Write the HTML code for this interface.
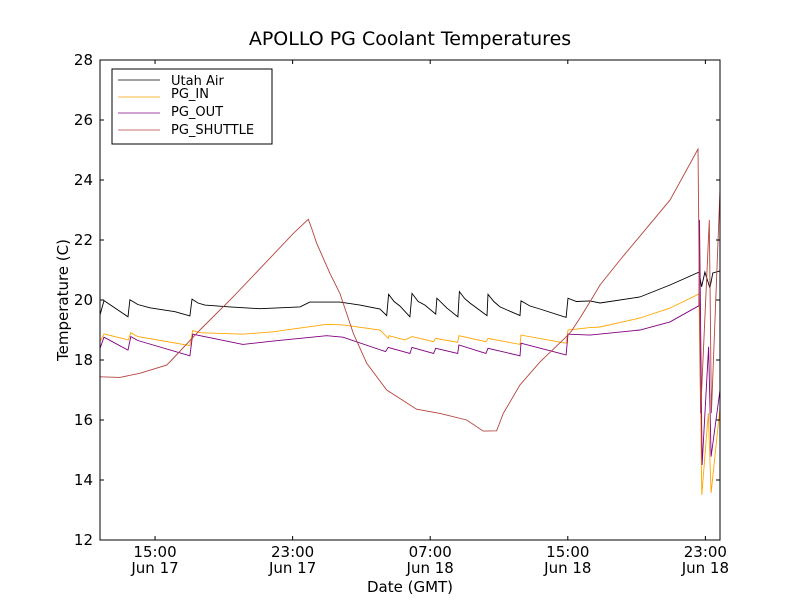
<!DOCTYPE html>
<html><head><meta charset="utf-8">
<style>
body{margin:0;background:#fff;}
svg{display:block;font-family:"DejaVu Sans","Liberation Sans",sans-serif;}
</style></head>
<body>
<svg id="chart" width="800" height="600" viewBox="0 0 800 600">
<rect x="0" y="0" width="800" height="600" fill="#fff"/>
<text x="410" y="45" text-anchor="middle" font-size="19">APOLLO PG Coolant Temperatures</text>
<text x="410" y="592" text-anchor="middle" font-size="15">Date (GMT)</text>
<text transform="translate(68,300) rotate(-90)" text-anchor="middle" font-size="15">Temperature (C)</text>
<g id="series"></g>
<g id="axes"></g>
<g>
<rect x="112" y="69" width="160" height="75" fill="#fff" stroke="#000" stroke-width="1"/>
<g><line x1="118" y1="80" x2="160" y2="80" stroke="#000" stroke-width="0.8"/><text x="171" y="85" font-size="13">Utah Air</text></g>
<g><line x1="118" y1="97" x2="160" y2="97" stroke="#FFA500" stroke-width="0.8"/><text x="171" y="98" font-size="13">PG_IN</text></g>
<g><line x1="118" y1="113" x2="160" y2="113" stroke="#800080" stroke-width="0.8"/><text x="171" y="116" font-size="13">PG_OUT</text></g>
<g><line x1="118" y1="130" x2="160" y2="130" stroke="#b5443f" stroke-width="0.8"/><text x="171" y="134" font-size="13">PG_SHUTTLE</text></g>
</g>
</svg>
<script>
// hours since Jun 17 00:00 GMT
const airT=[11.8,12.03,12.5,13.43,13.54,14.0,14.7,16.16,17.03,17.15,17.5,17.9,19.36,21.1,23.43,24.0,25.75,26.92,28.08,28.47,28.58,28.9,29.24,29.82,29.94,30.3,30.7,31.32,31.39,31.97,32.61,32.7,33.0,33.31,34.3,34.36,34.7,35.06,36.22,36.28,36.8,37.38,38.9,39.01,39.5,40.29,40.87,43.19,44.94,46.63,46.78,46.97,47.26,47.43,47.85];
const airV=[19.5,19.98,19.8,19.44,20.01,19.85,19.74,19.61,19.47,20.03,19.9,19.83,19.77,19.71,19.77,19.93,19.93,19.83,19.7,19.48,20.19,19.95,19.8,19.44,20.22,19.95,19.83,19.53,20.06,19.73,19.44,20.28,20.05,19.9,19.48,20.19,19.95,19.77,19.48,19.97,19.8,19.7,19.42,20.06,19.95,19.97,19.9,20.1,20.5,20.93,20.44,20.93,20.4,20.9,20.97];
const inT=[11.8,12.03,13.45,13.59,14.0,17.03,17.19,17.61,20.11,21.86,24.98,25.93,28.08,28.56,28.6,29.53,29.94,31.2,31.32,32.6,32.67,34.24,34.36,36.22,36.28,38.9,39.01,40.29,40.87,43.2,44.94,46.63,46.79,47.17,47.33,47.85];
const inV=[18.61,18.87,18.67,18.91,18.78,18.48,18.98,18.91,18.86,18.94,19.19,19.17,19.0,18.72,18.81,18.67,18.78,18.61,18.72,18.59,18.81,18.61,18.72,18.52,18.83,18.56,19.0,19.08,19.1,19.4,19.73,20.2,13.5,16.23,13.57,16.4];
const outT=[11.8,12.03,13.43,13.59,14.0,17.03,17.19,20.11,21.86,24.98,25.93,28.4,28.56,29.82,29.94,31.2,31.32,32.6,32.67,34.24,34.36,36.22,36.28,38.9,39.01,40.29,43.2,44.94,46.63,46.66,46.81,47.19,47.33,47.85];
const outV=[18.39,18.76,18.33,18.78,18.65,18.14,18.86,18.52,18.63,18.81,18.76,18.28,18.42,18.22,18.42,18.22,18.39,18.22,18.5,18.22,18.39,18.14,18.56,18.17,18.86,18.83,19.0,19.27,19.81,22.67,14.5,18.44,14.78,17.0];
const shT=[11.8,12.96,14.13,15.68,15.97,17.61,19.55,21.49,23.04,23.91,24.1,24.4,25.17,25.75,26.53,27.31,28.47,30.21,31.57,33.12,34.08,34.86,35.25,36.22,37.38,38.83,39.2,39.71,40.3,40.87,42.03,43.49,44.94,46.57,46.72,47.23,47.35,47.85];
const shV=[17.44,17.42,17.56,17.83,18.0,19.0,20.11,21.28,22.22,22.69,22.4,21.89,20.89,20.22,18.89,17.89,17.0,16.36,16.22,16.0,15.63,15.64,16.22,17.17,17.93,18.73,18.95,19.4,19.95,20.5,21.33,22.33,23.33,25.03,16.23,22.67,16.23,23.67];
const yTicks=[12,14,16,18,20,22,24,26,28];
const xTickHours=[15,23,31,39,47];
const xTickTime=["15:00","23:00","07:00","15:00","23:00"];
const xTickDate=["Jun 17","Jun 17","Jun 18","Jun 18","Jun 18"];

const X0=100,X1=720,Y0=60,Y1=540,HMIN=11.8,HMAX=47.85,TMIN=12,TMAX=28;
const NS="http://www.w3.org/2000/svg";
function sx(h){return X0+(h-HMIN)/(HMAX-HMIN)*(X1-X0);}
function sy(t){return Y1-(t-TMIN)/(TMAX-TMIN)*(Y1-Y0);}
const series=document.getElementById('series');
function drawLine(ts,vs,color,name){
  const p=document.createElementNS(NS,'path');
  let d='';
  for(let i=0;i<ts.length;i++){d+=(i?'L':'M')+sx(ts[i]).toFixed(1)+' '+sy(vs[i]).toFixed(1);}
  p.setAttribute('d',d);p.setAttribute('fill','none');p.setAttribute('stroke',color);p.setAttribute('stroke-width','0.9');
  
  
  series.appendChild(p);
}
drawLine(airT,airV,'#000','utah-air-line');
drawLine(inT,inV,'#FFA500','pg-in-line');
drawLine(outT,outV,'#800080','pg-out-line');
drawLine(shT,shV,'#b5443f','pg-shuttle-line');

const axes=document.getElementById('axes');
function el(tag,attrs){const e=document.createElementNS(NS,tag);for(const k in attrs)e.setAttribute(k,attrs[k]);axes.appendChild(e);return e;}
const frame=el('rect',{x:X0,y:Y0,width:X1-X0,height:Y1-Y0,fill:'none',stroke:'#000','stroke-width':1});


yTicks.forEach(v=>{
  const y=sy(v);
  el('line',{x1:X0,y1:y,x2:X0+4,y2:y,stroke:'#000'});
  el('line',{x1:X1,y1:y,x2:X1-4,y2:y,stroke:'#000'});
  const t=el('text',{x:X0-7,y:y+5,'text-anchor':'end','font-size':15});
  t.textContent=v;
  
  
});
xTickHours.forEach((h,i)=>{
  const x=sx(h);
  el('line',{x1:x,y1:Y1,x2:x,y2:Y1-4,stroke:'#000'});
  el('line',{x1:x,y1:Y0,x2:x,y2:Y0+4,stroke:'#000'});
  const t=el('text',{x:x,y:Y1+17,'text-anchor':'middle','font-size':15});
  t.textContent=xTickTime[i];
  
  
  const t2=el('text',{x:x,y:Y1+33,'text-anchor':'middle','font-size':15});
  t2.textContent=xTickDate[i];
  
  
});
</script>
</body></html>
